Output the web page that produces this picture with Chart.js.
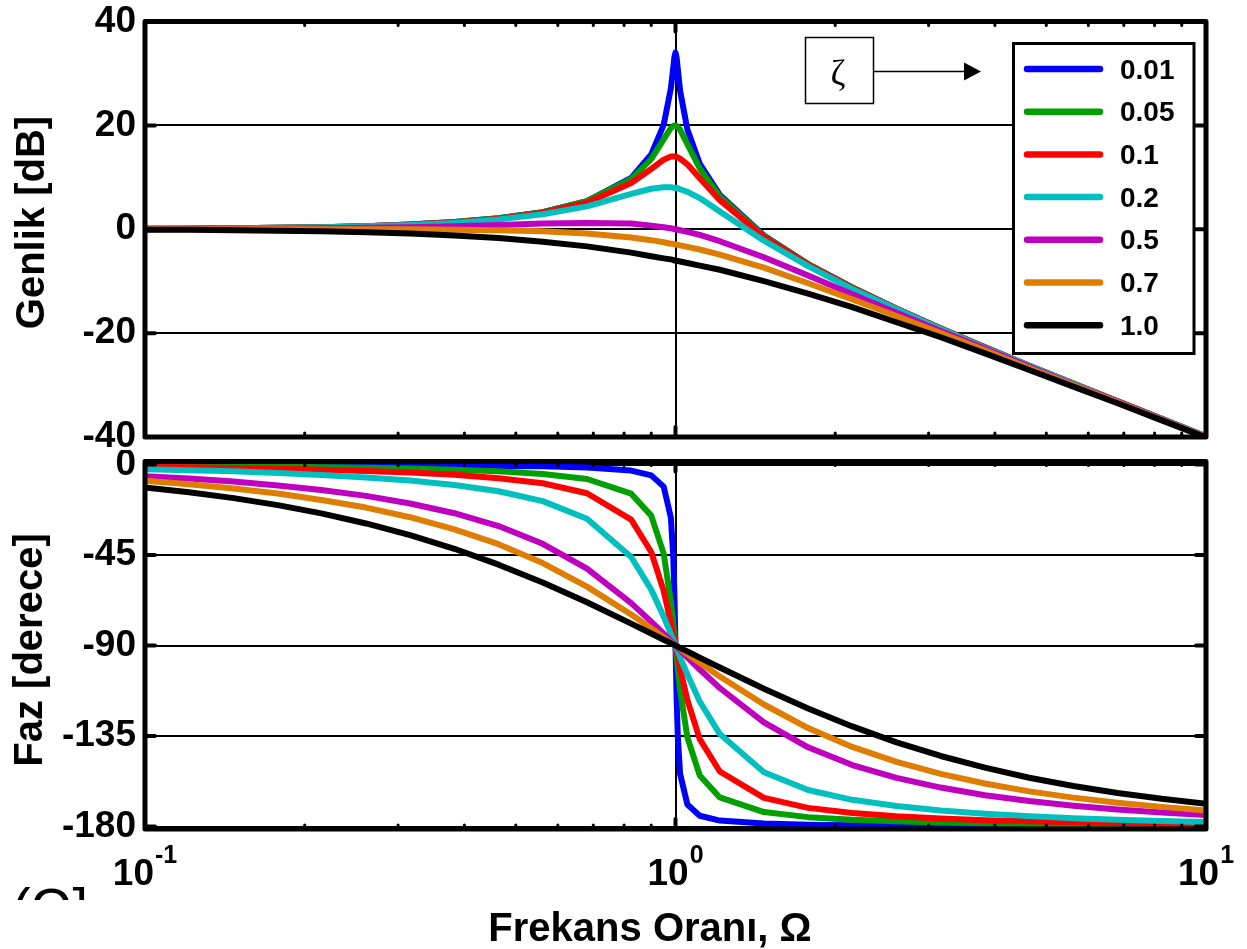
<!DOCTYPE html>
<html>
<head>
<meta charset="utf-8">
<title>Genlik / Faz</title>
<script src="https://cdn.jsdelivr.net/npm/chart.js@4.4.1/dist/chart.umd.min.js"></script>
<style>
  html, body { margin: 0; padding: 0; background: #fff; }
  #wrap { position: relative; width: 1247px; height: 949px; overflow: hidden; background: #fff; }
  canvas { position: absolute; left: 0; }
  #magChart { top: 0; }
  #phaseChart { top: 450px; }
</style>
</head>
<body>
<div id="wrap">
  <canvas id="magChart" width="1247" height="456"></canvas>
  <canvas id="phaseChart" width="1247" height="499"></canvas>
</div>
<script>
// frekans orani (log ekseni), 1 civarinda sik ornek
const freq = [0.1, 0.121, 0.147, 0.178, 0.215, 0.261, 0.316, 0.383, 0.464, 0.562, 0.681, 0.825,
  0.9, 0.95, 0.98, 0.99, 0.995, 1, 1.005, 1.01, 1.02, 1.053, 1.111,
  1.212, 1.468, 1.778, 2.154, 2.61, 3.162, 3.831, 4.642, 5.623, 6.813, 8.254, 10];

const zetaLabels = ['0.01', '0.05', '0.1', '0.2', '0.5', '0.7', '1.0'];

// genlik [dB]
const mag001 = [0.1, 0.1, 0.2, 0.3, 0.4, 0.6, 0.9, 1.4, 2.1, 3.3, 5.4, 9.9, 14.4, 20.1, 27.1, 31.0, 33.1, 34.0, 33.0, 30.9, 26.7, 19.2, 12.6, 6.6, -1.2, -6.7, -11.2, -15.3, -19.1, -22.7, -26.3, -29.7, -33.1, -36.5, -39.9];
const mag005 = [0.1, 0.1, 0.2, 0.3, 0.4, 0.6, 0.9, 1.4, 2.1, 3.3, 5.4, 9.7, 13.5, 17.3, 19.5, 19.9, 20.0, 20.0, 19.9, 19.7, 19.2, 16.4, 11.7, 6.3, -1.3, -6.7, -11.2, -15.3, -19.1, -22.7, -26.3, -29.7, -33.1, -36.5, -39.9];
const mag01 = [0.1, 0.1, 0.2, 0.3, 0.4, 0.6, 0.9, 1.3, 2.0, 3.2, 5.1, 8.9, 11.6, 13.4, 14.0, 14.0, 14.0, 14.0, 13.9, 13.8, 13.6, 12.5, 9.8, 5.6, -1.5, -6.8, -11.3, -15.3, -19.1, -22.7, -26.3, -29.7, -33.1, -36.5, -39.9];
const mag02 = [0.1, 0.1, 0.2, 0.3, 0.4, 0.6, 0.8, 1.2, 1.9, 2.9, 4.4, 6.8, 7.8, 8.1, 8.1, 8.0, 8.0, 8.0, 7.9, 7.9, 7.7, 7.2, 6.0, 3.4, -2.2, -7.1, -11.5, -15.4, -19.2, -22.8, -26.3, -29.7, -33.2, -36.5, -39.9];
const mag05 = [0.0, 0.1, 0.1, 0.1, 0.2, 0.3, 0.4, 0.6, 0.8, 1.1, 1.2, 1.1, 0.7, 0.4, 0.2, 0.1, 0.0, 0.0, 0.0, -0.1, -0.2, -0.5, -1.1, -2.3, -5.4, -8.9, -12.5, -16.1, -19.6, -23.0, -26.5, -29.9, -33.2, -36.6, -40.0];
const mag07 = [0.0, 0.0, 0.0, 0.0, 0.0, 0.0, 0.0, -0.1, -0.2, -0.4, -0.8, -1.6, -2.1, -2.5, -2.8, -2.8, -2.9, -2.9, -3.0, -3.0, -3.1, -3.4, -3.9, -4.9, -7.4, -10.4, -13.5, -16.7, -20.0, -23.3, -26.7, -30.0, -33.3, -36.7, -40.0];
const mag10 = [-0.1, -0.1, -0.2, -0.3, -0.4, -0.6, -0.8, -1.2, -1.7, -2.4, -3.3, -4.5, -5.2, -5.6, -5.8, -5.9, -6.0, -6.0, -6.1, -6.1, -6.2, -6.5, -7.0, -7.8, -10.0, -12.4, -15.0, -17.9, -20.8, -23.9, -27.1, -30.3, -33.5, -36.8, -40.1];

// faz [derece]
const ph001 = [-0.1, -0.1, -0.2, -0.2, -0.3, -0.3, -0.4, -0.5, -0.7, -0.9, -1.5, -3.0, -5.4, -11.0, -26.3, -44.9, -63.4, -90, -116.6, -135.1, -153.7, -169.0, -174.6, -177.0, -178.5, -179.1, -179.3, -179.5, -179.6, -179.7, -179.7, -179.8, -179.8, -179.9, -179.9];
const ph005 = [-0.6, -0.7, -0.9, -1.1, -1.3, -1.6, -2.0, -2.6, -3.4, -4.7, -7.2, -14.5, -25.4, -44.3, -68.0, -78.6, -84.3, -90, -95.7, -101.4, -112.0, -135.7, -154.6, -165.5, -172.8, -175.3, -176.6, -177.4, -178.0, -178.4, -178.7, -179.0, -179.1, -179.3, -179.4];
const ph01 = [-1.2, -1.4, -1.7, -2.1, -2.6, -3.2, -4.0, -5.1, -6.8, -9.3, -14.3, -27.4, -43.5, -62.8, -78.6, -84.3, -87.1, -90, -92.9, -95.7, -101.4, -117.2, -136.5, -152.6, -165.7, -170.7, -173.2, -174.9, -176.0, -176.8, -177.4, -177.9, -178.3, -178.6, -178.8];
const ph02 = [-2.3, -2.8, -3.4, -4.2, -5.2, -6.4, -8.0, -10.2, -13.3, -18.2, -27.0, -46.0, -62.2, -75.6, -84.2, -87.1, -88.6, -90, -91.4, -92.9, -95.8, -104.4, -117.8, -134.0, -153.0, -161.8, -166.7, -169.8, -172.0, -173.6, -174.8, -175.8, -176.6, -177.2, -177.7];
const ph05 = [-5.8, -7.0, -8.5, -10.4, -12.7, -15.6, -19.4, -24.2, -30.6, -39.4, -51.8, -68.9, -78.1, -84.1, -87.7, -88.9, -89.4, -90, -90.6, -91.2, -92.3, -95.9, -101.9, -111.1, -128.2, -140.6, -149.4, -155.8, -160.6, -164.4, -167.3, -169.6, -171.5, -173.0, -174.2];
const ph07 = [-8.1, -9.8, -11.9, -14.4, -17.6, -21.4, -26.2, -32.2, -39.6, -49.0, -60.7, -74.6, -81.4, -85.8, -88.4, -89.2, -89.6, -90, -90.4, -90.8, -91.7, -94.2, -98.6, -105.4, -119.3, -131.0, -140.4, -147.8, -153.8, -158.6, -162.5, -165.6, -168.1, -170.2, -172.0];
const ph10 = [-11.4, -13.8, -16.7, -20.2, -24.3, -29.3, -35.1, -41.9, -49.8, -58.7, -68.5, -79.1, -84.0, -87.1, -88.8, -89.4, -89.7, -90, -90.3, -90.6, -91.2, -92.9, -96.0, -100.9, -111.5, -121.3, -130.2, -138.1, -144.9, -150.7, -155.7, -159.8, -163.3, -166.2, -168.6];

// eksen isaretleri
const magTicks = [-40, -20, 0, 20, 40];
const phaseTicks = [-180, -135, -90, -45, 0];
const xGridValues = [0.1, 0.2, 0.3, 0.4, 0.5, 0.6, 0.7, 0.8, 0.9, 1, 2, 3, 4, 5, 6, 7, 8, 9, 10];
const xTickValues = [0.1, 1, 10];
const xTickExp = ['-1', '0', '1'];

const zetaColors = ['#0000ff', '#00a000', '#ff0000', '#00bfbf', '#bf00bf', '#de7d00', '#000000'];
const FONT = "'Liberation Sans', Arial, sans-serif";

function isDecade(v) {
    const l = Math.log10(v);
    return Math.abs(l - Math.round(l)) < 1e-9;
}

function lineSets(series) {
    return zetaLabels.map((lab, i) => ({
        label: lab,
        data: freq.map((f, k) => ({ x: f, y: series[i][k] })),
        borderColor: zetaColors[i],
        borderWidth: 6,
        pointRadius: 0,
        tension: 0,
        borderJoinStyle: 'round',
        borderCapStyle: 'round',
        order: zetaLabels.length - 1 - i
    }));
}

function xScale(h) {
    return {
        type: 'logarithmic',
        min: 0.1,
        max: 10,
        afterBuildTicks: s => { s.ticks = xGridValues.map(v => ({ value: v, major: isDecade(v) })); },
        afterFit: s => { s.height = h; s.paddingLeft = 0; s.paddingRight = 0; },
        ticks: { display: false },
        grid: {
            drawTicks: false,
            lineWidth: 2,
            color: c => (c.tick && isDecade(c.tick.value)) ? '#000' : 'rgba(0,0,0,0)'
        },
        border: { display: false }
    };
}

function yScale(min, max, tickVals) {
    return {
        min: min,
        max: max,
        afterBuildTicks: s => { s.ticks = tickVals.map(v => ({ value: v })); },
        afterFit: s => { s.width = 145; s.paddingTop = 0; s.paddingBottom = 0; },
        ticks: { color: '#000', padding: 9, autoSkip: false, font: { family: FONT, size: 37, weight: 'bold' } },
        grid: { drawTicks: false, color: '#000', lineWidth: 2 },
        border: { display: false }
    };
}

// cerceve, kucuk isaretler
const framePlugin = {
    id: 'frame',
    afterDatasetsDraw(chart) {
        const { ctx, chartArea: a, scales: { x, y } } = chart;
        ctx.save();
        ctx.strokeStyle = '#000';
        ctx.lineCap = 'round';
        x.ticks.forEach(t => {
            const px = x.getPixelForValue(t.value);
            const major = isDecade(t.value);
            const len = major ? 10 : 4;
            ctx.lineWidth = major ? 4 : 3;
            ctx.beginPath();
            ctx.moveTo(px, a.top); ctx.lineTo(px, a.top + len);
            ctx.moveTo(px, a.bottom); ctx.lineTo(px, a.bottom - len);
            ctx.stroke();
        });
        y.ticks.forEach(t => {
            const py = y.getPixelForValue(t.value);
            ctx.lineWidth = 4;
            ctx.beginPath();
            ctx.moveTo(a.left, py); ctx.lineTo(a.left + 10, py);
            ctx.moveTo(a.right, py); ctx.lineTo(a.right - 10, py);
            ctx.stroke();
        });
        ctx.lineWidth = 5;
        ctx.lineJoin = 'round';
        ctx.strokeRect(a.left, a.top, a.right - a.left, a.bottom - a.top);
        ctx.restore();
    }
};

// ust grafik: lejant, zeta kutusu, eksen basligi
const magDecor = {
    id: 'magDecor',
    afterDraw(chart) {
        const ctx = chart.ctx;
        ctx.save();
        ctx.fillStyle = '#fff';
        ctx.fillRect(1013.5, 43.5, 180.5, 310);
        ctx.strokeStyle = '#000';
        ctx.lineWidth = 3;
        ctx.strokeRect(1013.5, 43.5, 180.5, 310);
        chart.data.datasets.forEach((ds, i) => {
            const cy = 69 + i * 42.7;
            ctx.strokeStyle = ds.borderColor;
            ctx.lineWidth = 6.5;
            ctx.lineCap = 'round';
            ctx.beginPath();
            ctx.moveTo(1027, cy);
            ctx.lineTo(1100, cy);
            ctx.stroke();
            ctx.fillStyle = '#000';
            ctx.font = 'bold 28px ' + FONT;
            ctx.textAlign = 'left';
            ctx.textBaseline = 'alphabetic';
            ctx.fillText(ds.label, 1120, cy + 9.5);
        });

        // zeta kutusu ve ok
        ctx.strokeStyle = '#000';
        ctx.fillStyle = '#000';
        ctx.lineWidth = 1.5;
        ctx.lineCap = 'butt';
        ctx.strokeRect(805.5, 37.5, 68, 66);
        ctx.font = "36px 'Liberation Serif', 'DejaVu Serif', serif";
        ctx.textAlign = 'center';
        ctx.textBaseline = 'alphabetic';
        ctx.fillText('ζ', 838, 85);
        ctx.beginPath();
        ctx.moveTo(873.5, 71.5);
        ctx.lineTo(966, 71.5);
        ctx.stroke();
        ctx.beginPath();
        ctx.moveTo(981, 71.5);
        ctx.lineTo(964, 62.5);
        ctx.lineTo(964, 80.5);
        ctx.closePath();
        ctx.fill();

        ctx.font = 'bold 40px ' + FONT;
        ctx.translate(43.5, 222.5);
        ctx.rotate(-Math.PI / 2);
        ctx.fillText('Genlik [dB]', 0, 0);
        ctx.restore();
    }
};

// alt grafik: x etiketleri, basliklar
const phaseDecor = {
    id: 'phaseDecor',
    afterDraw(chart) {
        const { ctx, scales: { x } } = chart;
        ctx.save();
        ctx.fillStyle = '#000';
        ctx.textAlign = 'left';
        ctx.textBaseline = 'alphabetic';
        xTickValues.forEach((v, i) => {
            const px = x.getPixelForValue(v);
            ctx.font = 'bold 37px ' + FONT;
            const wb = ctx.measureText('10').width;
            ctx.font = 'bold 25px ' + FONT;
            const we = ctx.measureText(xTickExp[i]).width;
            const start = px - (wb + we + 1) / 2;
            ctx.font = 'bold 37px ' + FONT;
            ctx.fillText('10', start, 435);
            ctx.font = 'bold 25px ' + FONT;
            ctx.fillText(xTickExp[i], start + wb + 1, 413);
        });

        ctx.textAlign = 'center';
        ctx.font = 'bold 40px ' + FONT;
        ctx.fillText('Frekans Oranı, Ω', 650, 491);

        // kirpilmis artik yazi
        ctx.save();
        ctx.beginPath();
        ctx.rect(0, 420, 100, 30);
        ctx.clip();
        ctx.font = '56px ' + FONT;
        ctx.textAlign = 'right';
        ctx.fillText('(Ω]', 88, 477);
        ctx.restore();

        ctx.textAlign = 'center';
        ctx.font = 'bold 40px ' + FONT;
        ctx.translate(41.6, 200);
        ctx.rotate(-Math.PI / 2);
        ctx.fillText('Faz [derece]', 0, 0);
        ctx.restore();
    }
};

const baseOptions = {
    responsive: false,
    maintainAspectRatio: false,
    animation: false,
    events: [],
    plugins: { legend: { display: false }, tooltip: { enabled: false }, title: { display: false } }
};

new Chart(document.getElementById('magChart'), {
    type: 'line',
    data: { datasets: lineSets([mag001, mag005, mag01, mag02, mag05, mag07, mag10]) },
    options: Object.assign({}, baseOptions, {
        layout: { autoPadding: false, padding: { left: 0, right: 41, top: 21.5, bottom: 0 } },
        scales: { x: xScale(19), y: yScale(-40, 40, magTicks) }
    }),
    plugins: [framePlugin, magDecor]
});

new Chart(document.getElementById('phaseChart'), {
    type: 'line',
    data: { datasets: lineSets([ph001, ph005, ph01, ph02, ph05, ph07, ph10]) },
    options: Object.assign({}, baseOptions, {
        layout: { autoPadding: false, padding: { left: 0, right: 41, top: 11.5, bottom: 0 } },
        scales: { x: xScale(120), y: yScale(-181.2, 1.5, phaseTicks) }
    }),
    plugins: [framePlugin, phaseDecor]
});
</script>
</body>
</html>
